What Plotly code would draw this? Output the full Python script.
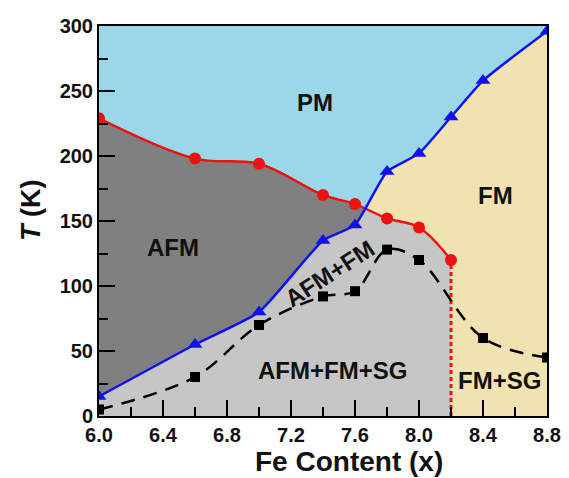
import numpy as np
import plotly.graph_objects as go

# Transition temperatures
red_x = [6.0, 6.6, 7.0, 7.4, 7.6, 7.8, 8.0, 8.2]
red_y = [229, 198, 194, 170, 163, 152, 145, 120]          # PM boundary (circles)
blue_x = [6.0, 6.6, 7.0, 7.4, 7.6, 7.8, 8.0, 8.2, 8.4, 8.8]
blue_y = [15, 55, 80, 135, 147, 188, 202, 230, 258, 296]  # FM onset (triangles)
sq_x = [6.0, 6.6, 7.0, 7.4, 7.6, 7.8, 8.0, 8.4, 8.8]
sq_y = [5, 30, 70, 92, 96, 128, 120, 60, 45]               # SG (squares)

x_ticks = [6.0, 6.4, 6.8, 7.2, 7.6, 8.0, 8.4, 8.8]
y_ticks = [0, 50, 100, 150, 200, 250, 300]

labels = [
    ("PM", 7.35, 241, 0),
    ("AFM", 6.46, 130, 0),
    ("FM", 8.48, 170, 0),
    ("AFM+FM", 7.44, 110, -33),
    ("AFM+FM+SG", 7.46, 35, 0),
    ("FM+SG", 8.5, 27, 0),
]

C_PM = "#9AD7E9"
C_AFM = "#808080"
C_MIX = "#C6C6C6"
C_FM = "#F0E3B1"
RED = "#F01010"
BLUE = "#1010F0"
FONT = "Liberation Sans, Arial"
RED_SMOOTH = 1.0
BLUE_SMOOTH = 0.5

# intersection of red and blue boundaries (from the data segments)
rx, ry = np.array(red_x), np.array(red_y)
bx, by = np.array(blue_x), np.array(blue_y)
xi, yi = None, None
for i in range(len(rx) - 1):
    x0, x1 = rx[i], rx[i + 1]
    if x0 in bx and x1 in bx:
        b0 = by[list(bx).index(x0)]
        b1 = by[list(bx).index(x1)]
        d0, d1 = ry[i] - b0, ry[i + 1] - b1
        if d0 > 0 >= d1:
            t = d0 / (d0 - d1)
            xi = x0 + t * (x1 - x0)
            yi = ry[i] + t * (ry[i + 1] - ry[i])
            break

left_bx = [float(v) for v in bx if v < xi] + [float(xi)]
left_by = [float(by[list(bx).index(v)]) for v in bx if v < xi] + [float(yi)]
right_rx = [float(xi)] + [float(v) for v in rx if v > xi]
right_ry = [float(yi)] + [float(ry[list(rx).index(v)]) for v in rx if v > xi]

fig = go.Figure()
fig.add_trace(go.Scatter(x=blue_x, y=blue_y, mode="lines",
                         line=dict(width=0, shape="spline", smoothing=BLUE_SMOOTH),
                         fill="tozeroy", fillcolor=C_FM, hoverinfo="skip"))
fig.add_trace(go.Scatter(x=red_x, y=red_y, mode="lines",
                         line=dict(width=0, shape="spline", smoothing=RED_SMOOTH),
                         fill="tozeroy", fillcolor=C_AFM, hoverinfo="skip"))
fig.add_trace(go.Scatter(x=left_bx, y=left_by, mode="lines",
                         line=dict(width=0, shape="spline", smoothing=BLUE_SMOOTH),
                         fill="tozeroy", fillcolor=C_MIX, hoverinfo="skip"))
fig.add_trace(go.Scatter(x=right_rx, y=right_ry, mode="lines",
                         line=dict(width=0, shape="spline", smoothing=RED_SMOOTH),
                         fill="tozeroy", fillcolor=C_MIX, hoverinfo="skip"))
# cover the seam between the two light-gray fills
fig.add_trace(go.Scatter(x=[xi, xi], y=[0, yi - 2], mode="lines", line=dict(color=C_MIX, width=3),
                         hoverinfo="skip"))

# red dotted vertical boundary
fig.add_trace(go.Scatter(x=[red_x[-1], red_x[-1]], y=[0, red_y[-1]], mode="lines",
                         line=dict(color=RED, width=3, dash="4px,3px")))
# SG dashed
fig.add_trace(go.Scatter(x=sq_x, y=sq_y, mode="lines+markers",
                         line=dict(color="black", width=2.5, dash="14px,9px", shape="spline"),
                         marker=dict(symbol="square", size=10, color="black")))
# red curve
fig.add_trace(go.Scatter(x=red_x, y=red_y, mode="lines+markers",
                         line=dict(color=RED, width=2.5, shape="spline", smoothing=RED_SMOOTH),
                         marker=dict(symbol="circle", size=12, color=RED)))
# blue curve
fig.add_trace(go.Scatter(x=blue_x, y=blue_y, mode="lines+markers",
                         line=dict(color=BLUE, width=2.5, shape="spline", smoothing=BLUE_SMOOTH),
                         marker=dict(symbol="triangle-up", size=13, color=BLUE)))

for txt, x, y, ang in labels:
    fig.add_annotation(x=x, y=y, text=f"<b>{txt}</b>", showarrow=False, textangle=ang,
                       font=dict(family=FONT, size=24, color="#111111"))

# axis titles
fig.add_annotation(xref="paper", yref="paper", x=(349 - 99) / 448, y=(416 - 461) / 390,
                   text="<b>Fe Content (x)</b>", showarrow=False, xanchor="center", yanchor="middle",
                   font=dict(family=FONT, size=28, color="#111111"))
fig.add_annotation(xref="paper", yref="paper", x=(31 - 99) / 448, y=(416 - 211) / 390,
                   text="<b><i>T</i> (K)</b>", showarrow=False, xanchor="center", yanchor="middle",
                   textangle=-90, font=dict(family=FONT, size=27, color="#111111"))

axis_common = dict(showgrid=False, zeroline=False, showline=True, linecolor="black", linewidth=2,
                   mirror=True, ticks="inside", ticklen=16, tickwidth=2, tickcolor="black",
                   automargin=False,
                   tickfont=dict(family=FONT, size=20, color="#111111"))
fig.update_xaxes(range=[6.0, 8.8], tickvals=x_ticks, ticktext=[f"<b>{v:.1f}</b>" for v in x_ticks],
                 minor=dict(ticks="inside", ticklen=9, tickwidth=2, tickcolor="black", dtick=0.2, tick0=6.0),
                 **axis_common)
fig.update_yaxes(range=[0, 300], tickvals=y_ticks, ticktext=[f"<b>{v}</b>" for v in y_ticks],
                 minor=dict(ticks="inside", ticklen=9, tickwidth=2, tickcolor="black", dtick=25, tick0=0),
                 **axis_common)
fig.update_layout(width=569, height=478, margin=dict(l=99, r=22, t=26, b=62),
                  plot_bgcolor=C_PM, paper_bgcolor="white", showlegend=False)
fig.write_html("out.html", config={"displayModeBar": False},
               post_script="document.body.style.margin='0px';document.body.style.overflow='hidden';")
